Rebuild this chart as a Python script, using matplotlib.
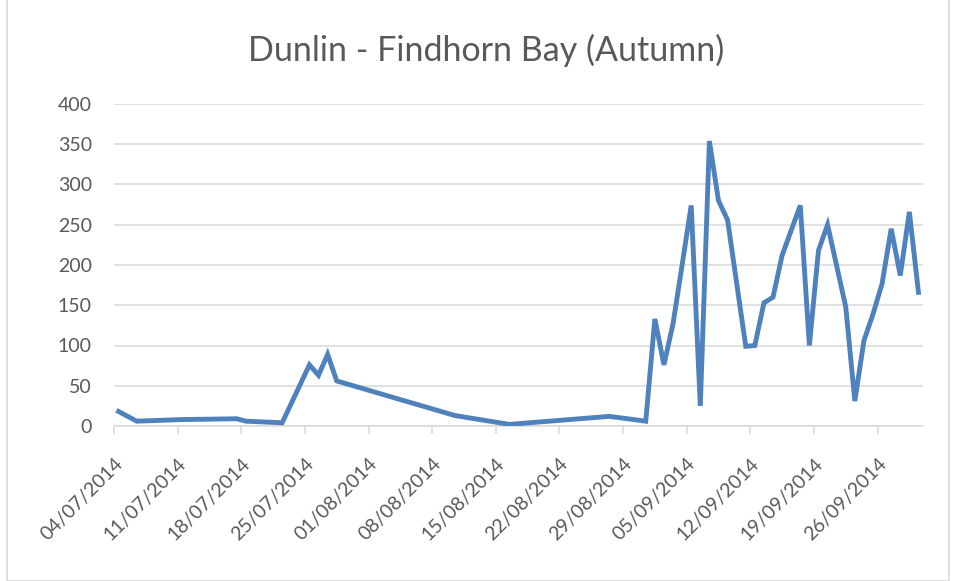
import datetime as dt

import matplotlib
matplotlib.use("Agg")
import matplotlib.dates as mdates
import matplotlib.pyplot as plt
from matplotlib.patches import Rectangle

# survey dates (2014) and dunlin counts
dates = [
    "2014-07-04", "2014-07-06", "2014-07-11", "2014-07-17", "2014-07-18",
    "2014-07-22", "2014-07-25", "2014-07-26", "2014-07-27", "2014-07-28",
    "2014-08-10", "2014-08-16", "2014-08-27", "2014-08-31", "2014-09-01",
    "2014-09-02", "2014-09-03", "2014-09-04", "2014-09-05", "2014-09-06",
    "2014-09-07", "2014-09-08", "2014-09-09", "2014-09-11", "2014-09-12",
    "2014-09-13", "2014-09-14", "2014-09-15", "2014-09-17", "2014-09-18",
    "2014-09-19", "2014-09-20", "2014-09-22", "2014-09-23", "2014-09-24",
    "2014-09-25", "2014-09-26", "2014-09-27", "2014-09-28", "2014-09-29",
    "2014-09-30",
]
counts = [
    18, 6, 8, 9, 6,
    4, 76, 63, 89, 56,
    13, 2, 12, 6, 133,
    76, 127, 200, 274, 25,
    354, 280, 256, 99, 100,
    153, 160, 212, 274, 100,
    218, 250, 148, 31, 106,
    139, 177, 245, 187, 266,
    166,
]
tick_dates = [
    "2014-07-04", "2014-07-11", "2014-07-18", "2014-07-25", "2014-08-01",
    "2014-08-08", "2014-08-15", "2014-08-22", "2014-08-29", "2014-09-05",
    "2014-09-12", "2014-09-19", "2014-09-26",
]
y_ticks = [0, 50, 100, 150, 200, 250, 300, 350, 400]

title = "Dunlin - Findhorn Bay (Autumn)"
grey_text = "#595959"
grid_col = "#D9D9D9"
line_col = "#4F81BD"

plt.rcParams["font.family"] = ["Lato", "DejaVu Sans"]

# Excel date axis: each day is a slot, point sits mid-slot
x = [dt.datetime.fromisoformat(d) + dt.timedelta(hours=12) for d in dates]
ticks = [dt.datetime.fromisoformat(d) for d in tick_dates]

fig = plt.figure(figsize=(9.56, 5.81), dpi=100)
ax = fig.add_axes([114 / 956, 1 - 426 / 581, (923 - 114) / 956, (426 - 104) / 581])

ax.plot(x, counts, color=line_col, lw=3.5, solid_joinstyle="miter", zorder=3)

ax.set_xlim(dt.datetime(2014, 7, 4), dt.datetime(2014, 10, 1))
ax.set_ylim(0, 400)
ax.set_yticks(y_ticks)
ax.set_xticks(ticks)
ax.xaxis.set_major_formatter(mdates.DateFormatter("%d/%m/%Y"))

ax.grid(axis="y", color=grid_col, lw=1.1)
ax.set_axisbelow(True)
for s in ["top", "right", "left"]:
    ax.spines[s].set_visible(False)
ax.spines["bottom"].set_color(grid_col)
ax.spines["bottom"].set_linewidth(1.1)

ax.tick_params(axis="y", length=0, pad=16, labelsize=14, labelcolor=grey_text)
ax.tick_params(axis="x", length=6, width=1.1, color=grid_col, direction="out",
               pad=15, labelsize=14, labelcolor=grey_text)
for lab in ax.get_xticklabels():
    lab.set_rotation(45)
    lab.set_ha("right")
    lab.set_rotation_mode("anchor")

fig.text(0.509, 0.913, title, ha="center", va="center", fontsize=24.5, color=grey_text)

# chart area border
fig.patches.append(Rectangle((7 / 956, 0.5 / 581), 942 / 956, 1.2, transform=fig.transFigure,
                             fill=False, edgecolor=grid_col, lw=1.2))

fig.savefig("out.png", dpi=100)
